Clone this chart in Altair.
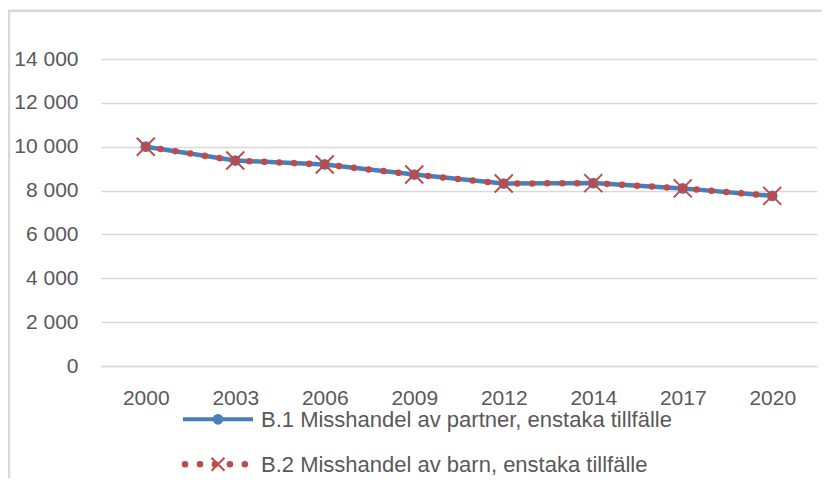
import altair as alt
import pandas as pd

years = ["2000", "2003", "2006", "2009", "2012", "2014", "2017", "2020"]
b1_values = [10000, 9370, 9190, 8730, 8320, 8340, 8100, 7760]
b2_values = [10000, 9370, 9190, 8730, 8320, 8340, 8100, 7760]
y_ticks = [0, 2000, 4000, 6000, 8000, 10000, 12000, 14000]
series_names = ["B.1 Misshandel av partner, enstaka tillfälle",
                "B.2 Misshandel av barn, enstaka tillfälle"]

BLUE = "#4A7EBB"
RED = "#BE4B48"
GRID = "#D9D9D9"
TEXT = "#595959"
FONT = "Liberation Sans"

df = pd.DataFrame({"year": years, "b1": b1_values, "b2": b2_values})
one = pd.DataFrame({"k": [0]})

x_enc = alt.X("year:O", sort=years,
              scale=alt.Scale(type="point", padding=0.5),
              axis=alt.Axis(title=None, labelAngle=0, ticks=False, grid=False,
                            domain=True, domainColor=GRID, domainWidth=1.5,
                            labelPadding=21, labelFontSize=21, labelColor=TEXT,
                            labelFont=FONT))

y_axis = alt.Axis(title=None, values=y_ticks, ticks=False, domain=False,
                  grid=True, gridColor=GRID, gridWidth=1.5,
                  labelPadding=23, labelFontSize=21, labelColor=TEXT, labelFont=FONT,
                  labelExpr="replace(format(datum.value, ','), ',', ' ')")
y_scale = alt.Scale(domain=[0, 14000], nice=False)

base = alt.Chart(df)

blue_line = base.mark_line(color=BLUE, strokeWidth=4.5).encode(
    x=x_enc, y=alt.Y("b1:Q", scale=y_scale, axis=y_axis))
blue_pts = base.mark_circle(color=BLUE, size=115, opacity=1).encode(
    x=x_enc, y=alt.Y("b1:Q", scale=y_scale))
red_line = base.mark_line(color=RED, strokeWidth=6.5, strokeDash=[0.1, 14.85],
                          strokeCap="round").encode(
    x=x_enc, y=alt.Y("b2:Q", scale=y_scale))
red_sq = base.mark_square(color=RED, size=64, opacity=1).encode(
    x=x_enc, y=alt.Y("b2:Q", scale=y_scale))
XPATH = "M-1,-1L1,1M-1,1L1,-1"
red_x = base.mark_point(shape=XPATH, size=324, strokeWidth=2, filled=False,
                        color=RED, opacity=1).encode(
    x=x_enc, y=alt.Y("b2:Q", scale=y_scale))

# chart frame (cropped Excel chart border)
lb = alt.Chart(one)
border_left = lb.mark_rule(color=GRID, strokeWidth=2.5).encode(
    x=alt.value(-92), y=alt.value(-48.3), y2=alt.value(430))
border_top = lb.mark_rule(color=GRID, strokeWidth=2.5).encode(
    x=alt.value(-93), x2=alt.value(730), y=alt.value(-48.3))

# legend
leg1_line = lb.mark_rule(color=BLUE, strokeWidth=4).encode(
    x=alt.value(82), x2=alt.value(152), y=alt.value(360.3))
leg1_pt = lb.mark_circle(color=BLUE, size=115, opacity=1).encode(
    x=alt.value(117), y=alt.value(360.3))
leg1_txt = lb.mark_text(align="left", baseline="alphabetic", font=FONT,
                        fontSize=22, color=TEXT).encode(
    x=alt.value(160), y=alt.value(367.7), text=alt.value(series_names[0]))
leg2_line = lb.mark_rule(color=RED, strokeWidth=6.5, strokeDash=[0.1, 14.85],
                         strokeCap="round").encode(
    x=alt.value(84), x2=alt.value(152), y=alt.value(405.3))
leg2_x = lb.mark_point(shape=XPATH, size=169, strokeWidth=2, filled=False,
                       color=RED, opacity=1).encode(
    x=alt.value(117), y=alt.value(405.3))
leg2_txt = lb.mark_text(align="left", baseline="alphabetic", font=FONT,
                        fontSize=22, color=TEXT).encode(
    x=alt.value(160), y=alt.value(412.7), text=alt.value(series_names[1]))

chart = alt.layer(
    border_left, border_top,
    blue_line, blue_pts, red_line, red_sq, red_x,
    leg1_line, leg1_pt, leg1_txt, leg2_line, leg2_x, leg2_txt,
).properties(
    width=716, height=307,
    autosize=alt.AutoSizeParams(type="none"),
    padding={"left": 93, "top": 51, "right": 5, "bottom": 112},
    background="white",
).configure_view(stroke=None)

chart.save("out.html", embed_options={"renderer": "svg", "actions": False})
